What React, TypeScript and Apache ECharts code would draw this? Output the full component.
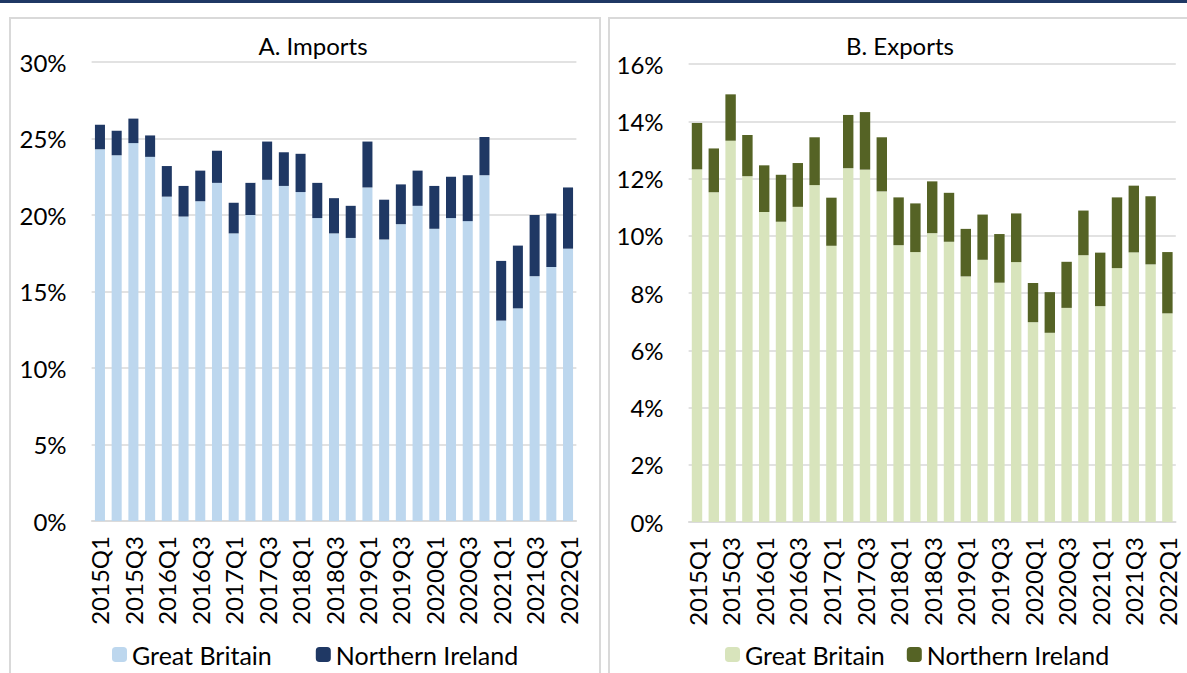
import React, { useEffect, useRef } from "react";
import * as echarts from "echarts";

const quarters = [
  "2015Q1","2015Q2","2015Q3","2015Q4","2016Q1","2016Q2","2016Q3","2016Q4",
  "2017Q1","2017Q2","2017Q3","2017Q4","2018Q1","2018Q2","2018Q3","2018Q4",
  "2019Q1","2019Q2","2019Q3","2019Q4","2020Q1","2020Q2","2020Q3","2020Q4",
  "2021Q1","2021Q2","2021Q3","2021Q4","2022Q1",
];

const importsGB = [24.3,23.9,24.7,23.8,21.2,19.9,20.9,22.1,18.8,20.0,22.3,21.9,21.5,19.8,18.8,18.5,21.8,18.4,19.4,20.6,19.1,19.8,19.6,22.6,13.1,13.9,16.0,16.6,17.8];
const importsNI = [1.6,1.6,1.6,1.4,2.0,2.0,2.0,2.1,2.0,2.1,2.5,2.2,2.5,2.3,2.3,2.1,3.0,2.6,2.6,2.3,2.8,2.7,3.0,2.5,3.9,4.1,4.0,3.5,4.0];

const exportsGB = [12.32,11.52,13.32,12.08,10.83,10.49,11.01,11.77,9.65,12.36,12.31,11.55,9.67,9.43,10.09,9.79,8.58,9.16,8.36,9.08,6.98,6.61,7.48,9.32,7.54,8.87,9.42,9.0,7.29];
const exportsNI = [1.62,1.53,1.62,1.44,1.63,1.64,1.53,1.67,1.68,1.86,2.01,1.89,1.67,1.7,1.81,1.71,1.66,1.58,1.7,1.7,1.37,1.42,1.61,1.56,1.87,2.47,2.33,2.38,2.14];

const FONT = "Lato";
const TEXT = "#000000";
const GRIDC = "#d9d9d9";
const C_IMP_GB = "#bdd7ee";
const C_IMP_NI = "#1f3864";
const C_EXP_GB = "#d8e4bc";
const C_EXP_NI = "#556325";

export default function App() {
  const ref = useRef<HTMLDivElement>(null);
  useEffect(() => {
    if (!ref.current) return;
    const chart = echarts.init(ref.current, null, { renderer: "svg" });
    const xAxisBase = (gridIndex: number) => ({
      type: "category" as const,
      gridIndex,
      data: quarters,
      axisTick: { show: false },
      axisLine: { lineStyle: { color: GRIDC, width: 1.5 } },
      axisLabel: {
        interval: 1,
        rotate: 90,
        margin: 15,
        color: TEXT,
        fontFamily: FONT,
        fontSize: 24,
      },
    });
    const yAxisBase = (gridIndex: number, max: number, interval: number) => ({
      type: "value" as const,
      gridIndex,
      min: 0,
      max,
      interval,
      axisLine: { show: false },
      axisTick: { show: false },
      splitLine: { lineStyle: { color: GRIDC, width: 1.5 } },
      axisLabel: {
        formatter: "{value}%",
        margin: 25,
        color: TEXT,
        fontFamily: FONT,
        fontSize: 24,
      },
    });
    const titleStyle = { fontFamily: FONT, fontSize: 24, fontWeight: "normal" as const, color: TEXT };
    const legendText = { fontFamily: FONT, fontSize: 25, color: TEXT };
    chart.setOption({
      animation: false,
      backgroundColor: "#ffffff",
      graphic: [
        { type: "rect", shape: { x: 0, y: 0, width: 1187, height: 3 }, style: { fill: "#1f3864" }, silent: true },
        { type: "rect", shape: { x: 10, y: 18, width: 590, height: 700 }, style: { fill: "none", stroke: GRIDC, lineWidth: 2 }, silent: true },
        { type: "rect", shape: { x: 609, y: 18, width: 620, height: 700 }, style: { fill: "none", stroke: GRIDC, lineWidth: 2 }, silent: true },
      ],
      title: [
        { text: "A. Imports", left: 308, textAlign: "center", top: 28, textStyle: titleStyle },
        { text: "B. Exports", left: 895, textAlign: "center", top: 28, textStyle: titleStyle },
      ],
      legend: [
        {
          left: 107, top: 637, itemWidth: 15, itemHeight: 15, itemGap: 44,
          textStyle: legendText,
          data: [
            { name: "Great Britain", itemStyle: { color: C_IMP_GB } },
            { name: "Northern Ireland", itemStyle: { color: C_IMP_NI } },
          ],
        },
        {
          left: 720, top: 637, itemWidth: 15, itemHeight: 15, itemGap: 22,
          textStyle: legendText,
          data: [
            { name: "Great Britain", itemStyle: { color: C_EXP_GB } },
            { name: "Northern Ireland", itemStyle: { color: C_EXP_NI } },
          ],
        },
      ],
      grid: [
        { left: 91.6, top: 62, width: 484.8, height: 459 },
        { left: 688.6, top: 64, width: 487.2, height: 458 },
      ],
      xAxis: [xAxisBase(0), xAxisBase(1)],
      yAxis: [yAxisBase(0, 30, 5), yAxisBase(1, 16, 2)],
      series: [
        { name: "Great Britain", type: "bar", stack: "imp", xAxisIndex: 0, yAxisIndex: 0, barWidth: "60%", data: importsGB, itemStyle: { color: C_IMP_GB } },
        { name: "Northern Ireland", type: "bar", stack: "imp", xAxisIndex: 0, yAxisIndex: 0, barWidth: "60%", data: importsNI, itemStyle: { color: C_IMP_NI } },
        { name: "Great Britain", type: "bar", stack: "exp", xAxisIndex: 1, yAxisIndex: 1, barWidth: "62%", data: exportsGB, itemStyle: { color: C_EXP_GB } },
        { name: "Northern Ireland", type: "bar", stack: "exp", xAxisIndex: 1, yAxisIndex: 1, barWidth: "62%", data: exportsNI, itemStyle: { color: C_EXP_NI } },
      ],
    });
    return () => chart.dispose();
  }, []);
  return (
    <div
      ref={ref}
      style={{ position: "fixed", left: 0, top: 0, width: 1187, height: 673, background: "#fff" }}
    />
  );
}
